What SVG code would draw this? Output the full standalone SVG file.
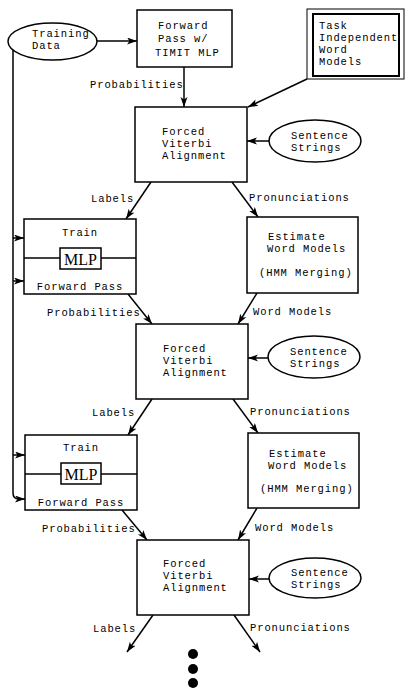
<svg xmlns="http://www.w3.org/2000/svg" width="409" height="688" viewBox="0 0 409 688">
<style>
.b{fill:#fff;stroke:#000;stroke-width:1.5}
.t{font-family:"Liberation Mono","Courier New",monospace;font-size:10.5px;letter-spacing:0.9px;fill:#000}
.c{text-anchor:middle}
.m{font-family:"Liberation Serif","Times New Roman",serif;font-size:16px;fill:#000;text-anchor:middle}
.e{fill:none;stroke:#000;stroke-width:1.5;marker-end:url(#ah)}
.l{fill:none;stroke:#000;stroke-width:1.5}
</style>
<defs>
<marker id="ah" markerUnits="userSpaceOnUse" markerWidth="11" markerHeight="8" refX="10" refY="3.5" orient="auto">
<path d="M0,0 L10,3.5 L0,7 L2.5,3.5 Z" fill="#000"/>
</marker>
</defs>
<rect width="409" height="688" fill="#fff"/>

<g id="connectors">
<line class="e" x1="97" y1="41" x2="137" y2="41"/>
<line class="e" x1="184" y1="67" x2="184" y2="107"/>
<line class="e" x1="307" y1="79" x2="248" y2="107"/>
<line class="e" x1="269" y1="141" x2="247" y2="141"/>
<line class="e" x1="151" y1="182" x2="126" y2="219"/>
<line class="e" x1="232" y1="182" x2="258" y2="217"/>
<path class="l" d="M13,48 V493 Q13,499 19,499"/>
<line class="e" x1="13" y1="238" x2="24" y2="238"/>
<line class="e" x1="13" y1="281" x2="24" y2="281"/>
<line class="e" x1="13" y1="455" x2="25" y2="455"/>
<line class="e" x1="18" y1="499" x2="25" y2="499"/>
<line class="e" x1="128" y1="294" x2="152" y2="324"/>
<line class="e" x1="257" y1="293" x2="238" y2="324"/>
<line class="e" x1="268" y1="358" x2="248" y2="358"/>
<line class="e" x1="152" y1="399" x2="128" y2="435"/>
<line class="e" x1="233" y1="399" x2="258" y2="433"/>
<line class="e" x1="122" y1="510" x2="147" y2="540"/>
<line class="e" x1="257" y1="508" x2="238" y2="540"/>
<line class="e" x1="269" y1="579" x2="249" y2="579"/>
<line class="e" x1="153" y1="615" x2="127" y2="652"/>
<line class="e" x1="234" y1="615" x2="260" y2="652"/>
</g>

<g id="labels">
<text class="t" x="90" y="88">Probabilities</text>
<text class="t" x="91" y="202">Labels</text>
<text class="t" x="249" y="201">Pronunciations</text>
<text class="t" x="47" y="316">Probabilities</text>
<text class="t" x="253" y="315">Word Models</text>
<text class="t" x="92" y="416">Labels</text>
<text class="t" x="250" y="415">Pronunciations</text>
<text class="t" x="42" y="532">Probabilities</text>
<text class="t" x="255" y="531">Word Models</text>
<text class="t" x="93" y="632">Labels</text>
<text class="t" x="250" y="631">Pronunciations</text>
</g>

<g id="training-data">
<ellipse class="b" cx="52.5" cy="41.5" rx="44.5" ry="18.5"/>
<text class="t" x="32" y="37">Training</text>
<text class="t" x="32" y="49">Data</text>
</g>

<g id="forward-pass-timit">
<rect class="b" x="137" y="10" width="95" height="57"/>
<text class="t" x="158" y="29">Forward</text>
<text class="t" x="158" y="42">Pass w/</text>
<text class="t" x="155" y="56">TIMIT MLP</text>
</g>

<g id="task-independent">
<rect x="307" y="9" width="97" height="70" fill="#fff" stroke="#000" stroke-width="1"/>
<rect x="313" y="14" width="86" height="62" fill="none" stroke="#000" stroke-width="2"/>
<text class="t" x="319" y="29">Task</text>
<text class="t" x="319" y="41">Independent</text>
<text class="t" x="319" y="53">Word</text>
<text class="t" x="319" y="65">Models</text>
</g>

<g id="fva1">
<rect class="b" x="135" y="107" width="112" height="75"/>
<text class="t" x="162" y="135">Forced</text>
<text class="t" x="162" y="147">Viterbi</text>
<text class="t" x="162" y="159">Alignment</text>
</g>

<g id="sentence1">
<ellipse class="b" cx="315" cy="141" rx="46" ry="21"/>
<text class="t" x="291" y="139">Sentence</text>
<text class="t" x="291" y="151">Strings</text>
</g>

<g id="train1">
<rect class="b" x="24" y="219" width="112" height="75"/>
<line class="l" x1="24" y1="258" x2="136" y2="258"/>
<rect class="b" x="60" y="248" width="41" height="21"/>
<text class="m" x="80.5" y="264.5">MLP</text>
<text class="t c" x="80" y="236">Train</text>
<text class="t c" x="80" y="290">Forward Pass</text>
</g>

<g id="estimate1">
<rect class="b" x="247" y="217" width="111" height="76"/>
<text class="t" x="268" y="240">Estimate</text>
<text class="t" x="267" y="252">Word Models</text>
<text class="t" x="259" y="276">(HMM Merging)</text>
</g>

<g id="fva2">
<rect class="b" x="136" y="324" width="112" height="75"/>
<text class="t" x="163" y="352">Forced</text>
<text class="t" x="163" y="364">Viterbi</text>
<text class="t" x="163" y="376">Alignment</text>
</g>

<g id="sentence2">
<ellipse class="b" cx="314" cy="357" rx="46" ry="21"/>
<text class="t" x="290" y="355">Sentence</text>
<text class="t" x="290" y="367">Strings</text>
</g>

<g id="train2">
<rect class="b" x="25" y="435" width="112" height="75"/>
<line class="l" x1="25" y1="474" x2="137" y2="474"/>
<rect class="b" x="61" y="463" width="40" height="21"/>
<text class="m" x="81" y="479.5">MLP</text>
<text class="t c" x="81" y="451">Train</text>
<text class="t c" x="81" y="506">Forward Pass</text>
</g>

<g id="estimate2">
<rect class="b" x="248" y="433" width="111" height="75"/>
<text class="t" x="269" y="457">Estimate</text>
<text class="t" x="268" y="469">Word Models</text>
<text class="t" x="260" y="492">(HMM Merging)</text>
</g>

<g id="fva3">
<rect class="b" x="137" y="540" width="112" height="75"/>
<text class="t" x="163" y="567">Forced</text>
<text class="t" x="163" y="579">Viterbi</text>
<text class="t" x="163" y="591">Alignment</text>
</g>

<g id="sentence3">
<ellipse class="b" cx="315" cy="578" rx="46" ry="20"/>
<text class="t" x="291" y="576">Sentence</text>
<text class="t" x="291" y="588">Strings</text>
</g>

<g id="ellipsis">
<circle cx="193" cy="654" r="5"/>
<circle cx="193" cy="669" r="5"/>
<circle cx="193" cy="683" r="5"/>
</g>
</svg>
